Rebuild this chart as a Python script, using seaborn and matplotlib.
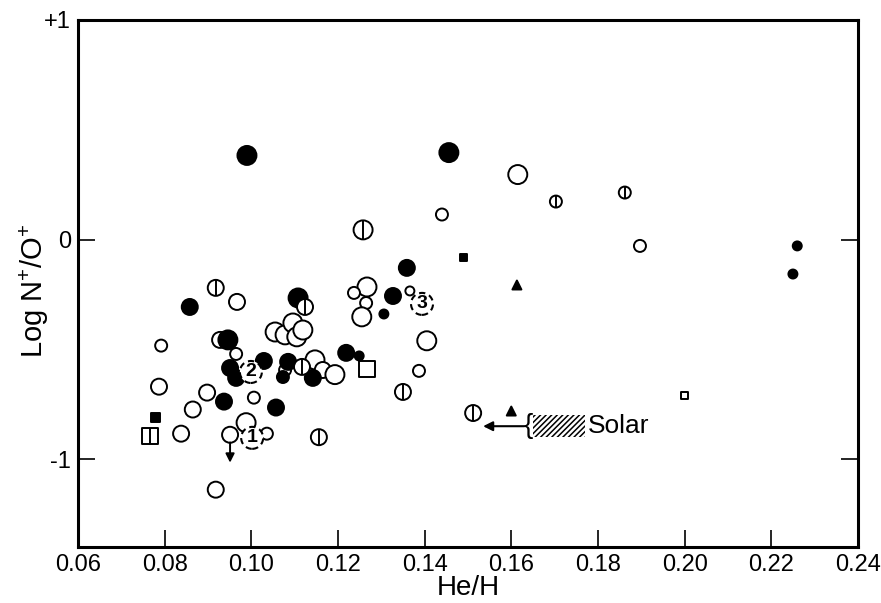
import matplotlib
matplotlib.use("Agg")
import matplotlib.pyplot as plt
from matplotlib.patches import Rectangle
import pandas as pd
import seaborn as sns

# He/H abundance ratio and log N+/O+ for each nebula
he_h = [
    # open circles
    0.1615, 0.1440, 0.1897, 0.1267, 0.1237, 0.1366, 0.1265, 0.1255, 0.1405, 0.1387,
    0.0967, 0.1055, 0.1078, 0.1096, 0.1105, 0.1119, 0.0928, 0.0965, 0.1078, 0.1147,
    0.1165, 0.1193, 0.0792, 0.0787, 0.0898, 0.1006, 0.0865, 0.0838, 0.0988, 0.0951,
    0.1036, 0.0918,
    # filled circles
    0.0990, 0.1456, 0.2260, 0.2250, 0.1359, 0.1327, 0.1306, 0.1219, 0.1249, 0.0858,
    0.1108, 0.0946, 0.0951, 0.0965, 0.1029, 0.1085, 0.1073, 0.1142, 0.0937, 0.1057,
    # split circles
    0.1703, 0.1862, 0.1258, 0.1350, 0.1512, 0.1156, 0.0918, 0.1124, 0.1117,
    # squares and triangles
    0.1267, 0.1999, 0.1489, 0.0780, 0.0766, 0.1613, 0.1600,
]
log_no = [
    0.296, 0.114, -0.029, -0.216, -0.243, -0.234, -0.289, -0.352, -0.461, -0.598,
    -0.284, -0.421, -0.434, -0.380, -0.443, -0.412, -0.457, -0.521, -0.594, -0.548,
    -0.594, -0.615, -0.483, -0.670, -0.697, -0.720, -0.774, -0.884, -0.834, -0.889,
    -0.884, -1.139,
    0.383, 0.396, -0.029, -0.157, -0.129, -0.257, -0.339, -0.516, -0.530, -0.307,
    -0.266, -0.457, -0.585, -0.630, -0.553, -0.557, -0.626, -0.630, -0.738, -0.765,
    0.173, 0.214, 0.044, -0.694, -0.790, -0.900, -0.220, -0.307, -0.580,
    -0.589, -0.708, -0.084, -0.811, -0.893, -0.207, -0.781,
]
symbol = (
    ["open"] * 32
    + ["filled"] * 20
    + ["split"] * 9
    + ["open_sq", "open_sq", "filled_sq", "filled_sq", "split_sq", "tri", "tri"]
)
size_class = [
    "L", "S", "S", "L", "S", "XS", "S", "L", "L", "S",
    "M", "L", "L", "L", "L", "L", "M", "S", "S", "L",
    "M", "L", "S", "M", "M", "S", "M", "M", "L", "M",
    "S", "M",
    "L", "L", "XS", "XS", "M", "M", "XS", "M", "XS", "M",
    "L", "L", "M", "M", "M", "M", "S", "M", "M", "M",
    "S", "S", "L", "M", "M", "M", "M", "M", "M",
    "M", "XXS", "XXS", "XS", "M", "XS", "XS",
]

# Numbered objects (dashed circles)
num_he = [0.1002, 0.0999, 0.1394]
num_no = [-0.903, -0.603, -0.293]
num_labels = ["1", "2", "3"]

# Upper-limit object
limit_he = 0.0951
limit_no = -0.889
limit_tip = -1.016

# Solar reference band
solar_he = (0.165, 0.177)
solar_no = (-0.90, -0.80)

x_ticks = [0.06, 0.08, 0.10, 0.12, 0.14, 0.16, 0.18, 0.20, 0.22, 0.24]
y_ticks = [-1, 0, 1]
y_ticklabels = ["-1", "0", "+1"]

df = pd.DataFrame({"he_h": he_h, "log_no": log_no,
                   "symbol": symbol, "size_class": size_class})

sns.set_theme(style="ticks")
plt.rcParams["font.family"] = ["Liberation Sans", "DejaVu Sans"]
plt.rcParams["mathtext.fontset"] = "custom"
plt.rcParams["mathtext.rm"] = "Liberation Sans"
plt.rcParams["mathtext.it"] = "Liberation Sans"
plt.rcParams["text.color"] = "black"
plt.rcParams["hatch.linewidth"] = 1.1

fig = plt.figure(figsize=(8.81, 6.03), dpi=100)
ax = fig.add_axes([0.0885, 0.0929, 0.8853, 0.8740])

px = 0.72  # points per pixel at 100 dpi
diam = {"L": 19, "M": 16, "S": 12, "XS": 9, "XXS": 7}
areas = {k: (v * px) ** 2 for k, v in diam.items()}
edge_lw = 1.4

styles = [
    ("open", "o", "white"),
    ("filled", "o", "black"),
    ("split", "o", "white"),
    ("open_sq", "s", "white"),
    ("filled_sq", "s", "black"),
    ("split_sq", "s", "white"),
    ("tri", "^", "black"),
]
for z, (name, mk, fc) in enumerate(styles):
    sub = df[df["symbol"] == name]
    sns.scatterplot(data=sub, x="he_h", y="log_no", size="size_class",
                    sizes=areas, marker=mk, color=fc, edgecolor="black",
                    linewidth=edge_lw, legend=False, ax=ax, zorder=3 + z)
    if name.startswith("split"):
        sns.scatterplot(data=sub, x="he_h", y="log_no", size="size_class",
                        sizes=areas, marker="|", color="black",
                        linewidth=edge_lw, legend=False, ax=ax, zorder=3 + z)

# Dashed numbered circles
num_df = pd.DataFrame({"he_h": num_he, "log_no": num_no})
sns.scatterplot(data=num_df, x="he_h", y="log_no", marker="o",
                s=(22 * px) ** 2, color="white", edgecolor="black",
                linewidth=1.5, linestyle=(0, (3, 2)), legend=False,
                ax=ax, zorder=12)
for hx, ny, lab in zip(num_he, num_no, num_labels):
    ax.text(hx, ny, lab, ha="center", va="center", fontsize=14,
            fontweight="bold", color="black", zorder=13)

# Upper-limit arrow
ax.annotate("", xy=(limit_he, limit_tip), xytext=(limit_he, limit_no - 0.035),
            arrowprops=dict(arrowstyle="-|>", color="black", lw=1.4,
                            mutation_scale=13, shrinkA=0, shrinkB=0),
            zorder=11)

# Solar band, brace and arrow
ax.add_patch(Rectangle((solar_he[0], solar_no[0]), solar_he[1] - solar_he[0],
                       solar_no[1] - solar_no[0], fill=False, hatch="//////",
                       edgecolor="black", linewidth=0, zorder=2))
mid = (solar_no[0] + solar_no[1]) / 2
ax.text(0.1638, mid, "{", ha="center", va="center", fontsize=20,
        color="black", zorder=4)
ax.annotate("", xy=(0.1535, mid), xytext=(0.1630, mid),
            arrowprops=dict(arrowstyle="-|>", color="black", lw=1.5,
                            mutation_scale=14, shrinkA=0, shrinkB=0),
            zorder=4)
ax.text(0.1777, mid, "Solar", ha="left", va="center", fontsize=19,
        color="black")

ax.set_xlim(0.06, 0.24)
ax.set_ylim(-1.4, 1.0)
ax.set_xticks(x_ticks)
ax.set_xticklabels([f"{t:.2f}" for t in x_ticks])
ax.set_yticks(y_ticks)
ax.set_yticklabels(y_ticklabels)
ax.tick_params(axis="both", direction="in", length=12, width=1.2,
               labelsize=17, colors="black", pad=5)
ax.tick_params(axis="y", right=True, labelright=False)
for sp in ax.spines.values():
    sp.set_linewidth(2.2)
    sp.set_color("black")
    sp.set_visible(True)

ax.set_xlabel("He/H", fontsize=20, labelpad=-1, color="black")
ax.set_ylabel("")
fig.text(34 / 881, 1 - 291 / 603, r"$\mathregular{Log\ N^{+}/O^{+}}$",
         rotation=90, ha="center", va="center", fontsize=21, color="black")
ax.grid(False)
ax.set_facecolor("white")
fig.patch.set_facecolor("white")

fig.savefig("out.png", dpi=100)
